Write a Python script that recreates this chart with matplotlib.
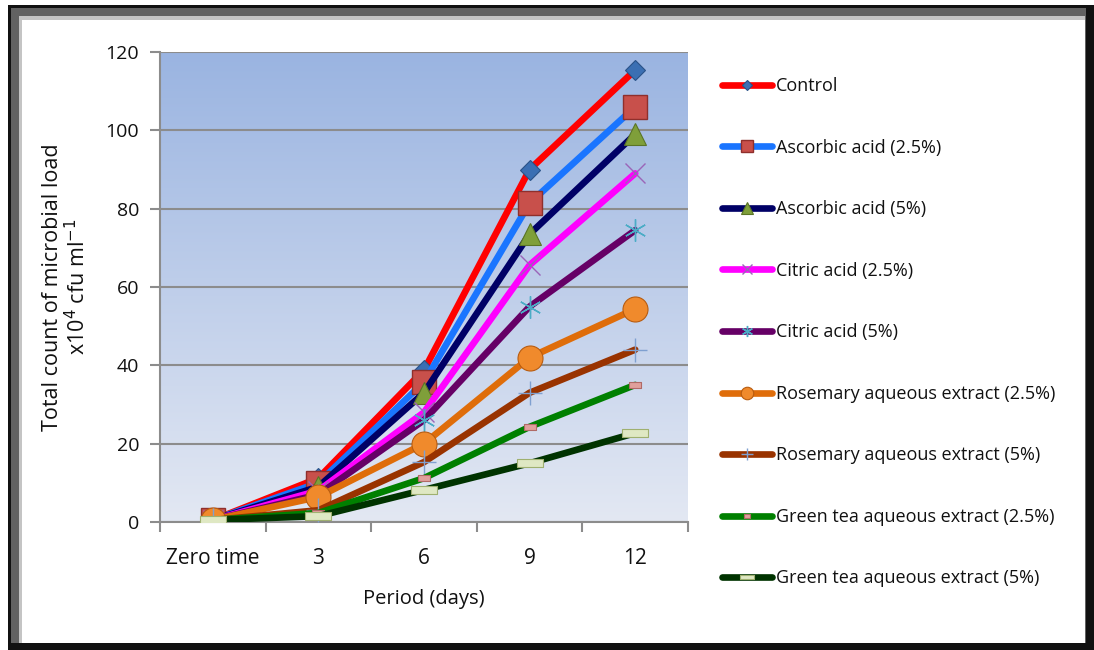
import matplotlib.pyplot as plt
import numpy as np
from matplotlib.patches import Rectangle
from matplotlib.path import Path
from matplotlib.colors import LinearSegmentedColormap

plt.rcParams['font.family'] = ['Open Sans', 'DejaVu Sans']

periods = ['Zero time', '3', '6', '9', '12']
labels = ['Control', 'Ascorbic acid (2.5%)', 'Ascorbic acid (5%)', 'Citric acid (2.5%)',
          'Citric acid (5%)', 'Rosemary aqueous extract (2.5%)', 'Rosemary aqueous extract (5%)',
          'Green tea aqueous extract (2.5%)', 'Green tea aqueous extract (5%)']

control = [0.5, 11.2, 38.8, 90.0, 115.4]
ascorbic_25 = [0.5, 10.0, 35.7, 81.4, 106.0]
ascorbic_5 = [0.5, 9.0, 33.0, 73.5, 99.0]
citric_25 = [0.5, 8.0, 28.0, 65.6, 89.0]
citric_5 = [0.5, 7.0, 26.0, 55.0, 74.5]
rosemary_25 = [0.5, 6.4, 20.0, 42.0, 54.4]
rosemary_5 = [0.5, 3.0, 15.3, 33.0, 44.0]
greentea_25 = [0.5, 2.3, 11.2, 24.3, 35.0]
greentea_5 = [0.5, 1.5, 8.2, 15.0, 22.7]

series = [control, ascorbic_25, ascorbic_5, citric_25, citric_5,
          rosemary_25, rosemary_5, greentea_25, greentea_5]

line_colors = ['#ff0000', '#1a75ff', '#000066', '#ff00ff', '#660066',
               '#df6d0a', '#993300', '#008000', '#003300']

wide_rect = Path([(-1, -0.28), (1, -0.28), (1, 0.28), (-1, 0.28), (-1, -0.28)],
                 [Path.MOVETO, Path.LINETO, Path.LINETO, Path.LINETO, Path.CLOSEPOLY])
small_rect = Path([(-1, -0.5), (1, -0.5), (1, 0.5), (-1, 0.5), (-1, -0.5)],
                  [Path.MOVETO, Path.LINETO, Path.LINETO, Path.LINETO, Path.CLOSEPOLY])
# marker, size, face, edge, edge width
markers = [
    ('D', 10, '#3b6fb3', '#2a5288', 0.8),
    ('s', 17, '#c8504b', '#8f2f2c', 1.0),
    ('^', 16, '#7f9f3a', '#5b7526', 0.8),
    ('x', 15, '#9a64b8', '#9a64b8', 1.0),
    ((6, 2, 0), 16, '#4bacc6', '#4bacc6', 1.0),
    ('o', 18, '#f08a2c', '#b85c10', 0.8),
    ('+', 17, '#7fa0d0', '#7fa0d0', 1.0),
    (small_rect, 9, '#e0a09c', '#b06a66', 0.8),
    (wide_rect, 19, '#dfe8c3', '#9fb070', 0.8),
]

fig = plt.figure(figsize=(10.94, 6.5), dpi=100)
W, H = 1094, 650

# frame
fig.patches.append(Rectangle((8 / W, 0), 1 - 8 / W, 1 - 5 / H, transform=fig.transFigure,
                             facecolor='#111111', edgecolor='none', zorder=-5))
fig.patches.append(Rectangle((11 / W, 7 / H), 1075 / W, 635 / H, transform=fig.transFigure,
                             facecolor='#626262', edgecolor='none', zorder=-4))
fig.patches.append(Rectangle((19 / W, 7 / H), 1066 / W, 627 / H, transform=fig.transFigure,
                             facecolor='#c4c4c4', edgecolor='none', zorder=-3))
fig.patches.append(Rectangle((22 / W, 7 / H), 1063 / W, 623 / H, transform=fig.transFigure,
                             facecolor='white', edgecolor='none', zorder=-2))

ax = fig.add_axes([160 / W, 1 - 522 / H, 528 / W, 470 / H])
ax.set_facecolor('none')

x = np.arange(len(periods))
ax.set_xlim(-0.5, len(periods) - 0.5)
ax.set_ylim(0, 120)

grad = np.linspace(0, 1, 256).reshape(-1, 1)
cmap = LinearSegmentedColormap.from_list('bg', ['#e3e8f3', '#9ab4e1'])
ax.imshow(grad, aspect='auto', cmap=cmap, origin='lower',
          extent=[-0.5, len(periods) - 0.5, 0, 120], zorder=0)

for i, vals in enumerate(series):
    m, ms, fc, ec, mew = markers[i]
    ax.plot(x, vals, color=line_colors[i], lw=4.8, solid_capstyle='round',
            marker=m, markersize=ms, markerfacecolor=fc, markeredgecolor=ec,
            markeredgewidth=mew, label=labels[i], zorder=3 + i * 0.1)

ax.set_yticks(np.arange(0, 121, 20))
ax.yaxis.grid(True, color='#8c8c8c', lw=1.5, zorder=1)
ax.set_axisbelow(False)
ax.set_xticks(x)
ax.set_xticklabels(periods)
ax.set_xticks(np.arange(-0.5, len(periods)), minor=True)
ax.tick_params(axis='x', which='major', length=0, pad=19, labelsize=15, labelcolor='#111111')
ax.tick_params(axis='x', which='minor', length=7, width=1.5, color='#8c8c8c')
ax.tick_params(axis='y', length=7, width=1.5, color='#8c8c8c', labelsize=14, pad=8,
               labelcolor='#111111')
for s in ['top', 'right']:
    ax.spines[s].set_visible(False)
for s in ['left', 'bottom']:
    ax.spines[s].set_color('#8c8c8c')
    ax.spines[s].set_linewidth(1.5)
ax.spines['bottom'].set_zorder(2)

ax.set_xlabel('Period (days)', fontsize=14.5, labelpad=14, color='#111111')
ax.set_ylabel('Total count of microbial load\nx10$^{4}$ cfu ml$^{-1}$', fontsize=15.5,
              labelpad=11, color='#111111', linespacing=1.1)

fig.legend(loc='upper left', bbox_to_anchor=(706 / W, 1 - 61 / H), frameon=False,
           fontsize=13, labelspacing=2.41, handlelength=2.75, handletextpad=0.2,
           markerscale=0.5, labelcolor='#111111')

fig.savefig('out.png', dpi=100)
